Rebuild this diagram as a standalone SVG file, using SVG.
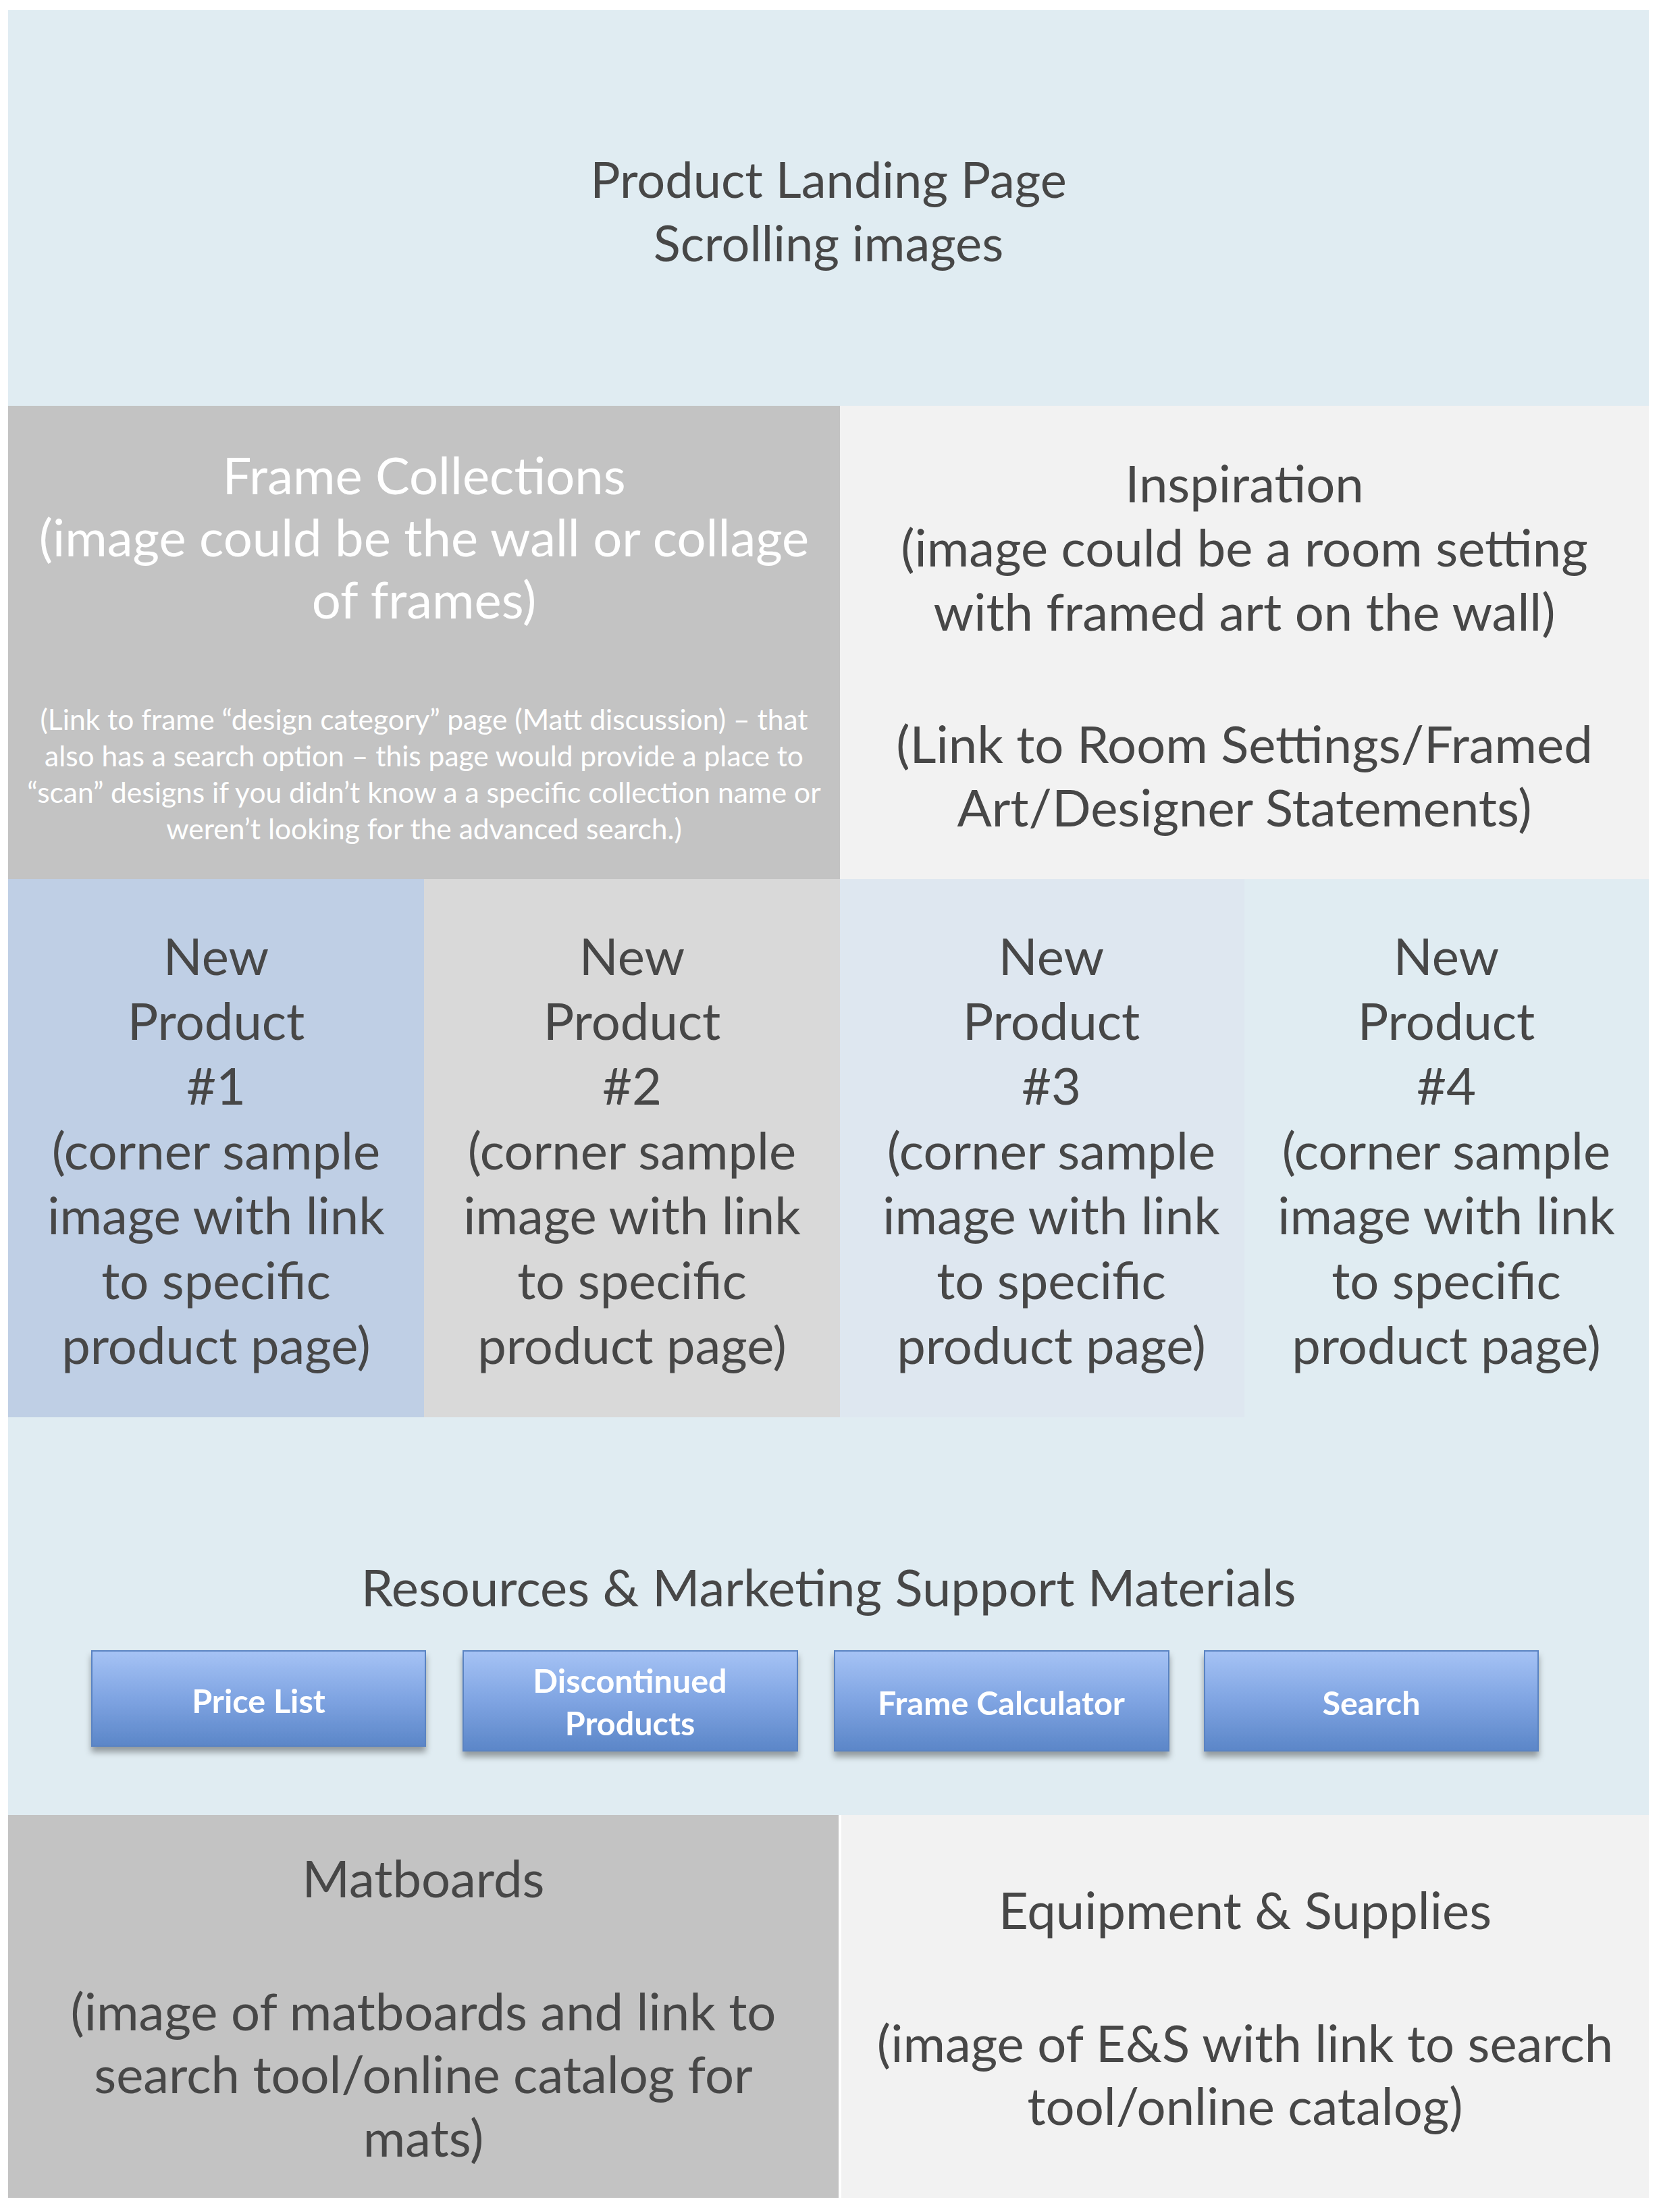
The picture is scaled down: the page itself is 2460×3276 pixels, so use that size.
<svg xmlns="http://www.w3.org/2000/svg" width="2460" height="3276" viewBox="0 0 2460 3276">
<defs>
<linearGradient id="btnGrad" x1="0" y1="0" x2="0" y2="1">
<stop offset="0" stop-color="#A6C3F5"/>
<stop offset="0.5" stop-color="#7FA4E2"/>
<stop offset="1" stop-color="#5B86C8"/>
</linearGradient>
<filter id="btnShadow" x="-5%" y="-10%" width="110%" height="140%">
<feDropShadow dx="0" dy="8" stdDeviation="5" flood-color="#000000" flood-opacity="0.35"/>
</filter>
</defs>
<style>
.t{font-family:Lato,"Liberation Sans",sans-serif;font-size:76px;fill:#474747;text-anchor:middle}
.h{font-size:74px}
.w{fill:#FFFFFF}
.s{font-family:Lato,"Liberation Sans",sans-serif;font-size:42.5px;fill:#FFFFFF;text-anchor:middle}
.b{font-family:Lato,"Liberation Sans",sans-serif;font-size:48.5px;font-weight:bold;fill:#FFFFFF;text-anchor:middle}
.btn{fill:url(#btnGrad);stroke:#5A83C2;stroke-width:2;filter:url(#btnShadow)}
</style>
<rect x="0" y="0" width="2460" height="3276" fill="#FFFFFF"/>

<g id="landing">
<rect x="12" y="15" width="2430" height="586" fill="#E0ECF2"/>
<text class="t h" x="1227" y="293">Product Landing Page</text>
<text class="t h" x="1227" y="387">Scrolling images</text>
</g>

<g id="frame-collections">
<rect x="12" y="601" width="1232" height="701" fill="#C3C3C3"/>
<text class="t w" x="628" y="732">Frame Collections</text>
<text class="t w" x="628" y="824">(image could be the wall or collage</text>
<text class="t w" x="628" y="916">of frames)</text>
<text class="s" x="628" y="1081">(Link to frame “design category” page (Matt discussion) – that</text>
<text class="s" x="628" y="1135">also has a search option – this page would provide a place to</text>
<text class="s" x="628" y="1189">“scan” designs if you didn’t know a a specific collection name or</text>
<text class="s" x="628" y="1243">weren’t looking for the advanced search.)</text>
</g>

<g id="inspiration">
<rect x="1244" y="601" width="1198" height="701" fill="#F2F2F2"/>
<text class="t" x="1843" y="744">Inspiration</text>
<text class="t" x="1843" y="839">(image could be a room setting</text>
<text class="t" x="1843" y="934">with framed art on the wall)</text>
<text class="t" x="1843" y="1130">(Link to Room Settings/Framed</text>
<text class="t" x="1843" y="1224">Art/Designer Statements)</text>
</g>

<g id="new-product-1">
<rect x="12" y="1302" width="616" height="797" fill="#BFCFE5"/>
<text class="t" x="320" y="1444">New</text>
<text class="t" x="320" y="1540">Product</text>
<text class="t" x="320" y="1636">#1</text>
<text class="t" x="320" y="1732">(corner sample</text>
<text class="t" x="320" y="1828">image with link</text>
<text class="t" x="320" y="1924">to specific</text>
<text class="t" x="320" y="2020">product page)</text>
</g>

<g id="new-product-2">
<rect x="628" y="1302" width="616" height="797" fill="#D9D9D9"/>
<text class="t" x="936" y="1444">New</text>
<text class="t" x="936" y="1540">Product</text>
<text class="t" x="936" y="1636">#2</text>
<text class="t" x="936" y="1732">(corner sample</text>
<text class="t" x="936" y="1828">image with link</text>
<text class="t" x="936" y="1924">to specific</text>
<text class="t" x="936" y="2020">product page)</text>
</g>

<g id="new-product-3">
<rect x="1244" y="1302" width="599" height="797" fill="#DEE7F0"/>
<text class="t" x="1557" y="1444">New</text>
<text class="t" x="1557" y="1540">Product</text>
<text class="t" x="1557" y="1636">#3</text>
<text class="t" x="1557" y="1732">(corner sample</text>
<text class="t" x="1557" y="1828">image with link</text>
<text class="t" x="1557" y="1924">to specific</text>
<text class="t" x="1557" y="2020">product page)</text>
</g>

<g id="new-product-4">
<rect x="1843" y="1302" width="599" height="797" fill="#E0ECF2"/>
<text class="t" x="2142" y="1444">New</text>
<text class="t" x="2142" y="1540">Product</text>
<text class="t" x="2142" y="1636">#4</text>
<text class="t" x="2142" y="1732">(corner sample</text>
<text class="t" x="2142" y="1828">image with link</text>
<text class="t" x="2142" y="1924">to specific</text>
<text class="t" x="2142" y="2020">product page)</text>
</g>

<g id="resources">
<rect x="12" y="2099" width="2430" height="589" fill="#E0ECF2"/>
<text class="t" x="1227" y="2379">Resources &amp; Marketing Support Materials</text>
</g>

<g id="btn-price-list">
<rect class="btn" x="136" y="2445" width="494" height="141"/>
<text class="b" x="383" y="2537">Price List</text>
</g>
<g id="btn-discontinued">
<rect class="btn" x="686" y="2445" width="495" height="148"/>
<text class="b" x="933" y="2507">Discontinued</text>
<text class="b" x="933" y="2570">Products</text>
</g>
<g id="btn-frame-calculator">
<rect class="btn" x="1236" y="2445" width="495" height="148"/>
<text class="b" x="1483" y="2540">Frame Calculator</text>
</g>
<g id="btn-search">
<rect class="btn" x="1784" y="2445" width="494" height="148"/>
<text class="b" x="2031" y="2540">Search</text>
</g>

<g id="matboards">
<rect x="12" y="2688" width="1230" height="567" fill="#C3C3C3"/>
<text class="t" x="627" y="2810">Matboards</text>
<text class="t" x="627" y="3007">(image of matboards and link to</text>
<text class="t" x="627" y="3100">search tool/online catalog for</text>
<text class="t" x="627" y="3194">mats)</text>
</g>

<g id="equipment-supplies">
<rect x="1246" y="2688" width="1196" height="567" fill="#F2F2F2"/>
<text class="t" x="1844" y="2857">Equipment &amp; Supplies</text>
<text class="t" x="1844" y="3054">(image of E&amp;S with link to search</text>
<text class="t" x="1844" y="3147">tool/online catalog)</text>
</g>

<g id="connectors"></g>
</svg>
